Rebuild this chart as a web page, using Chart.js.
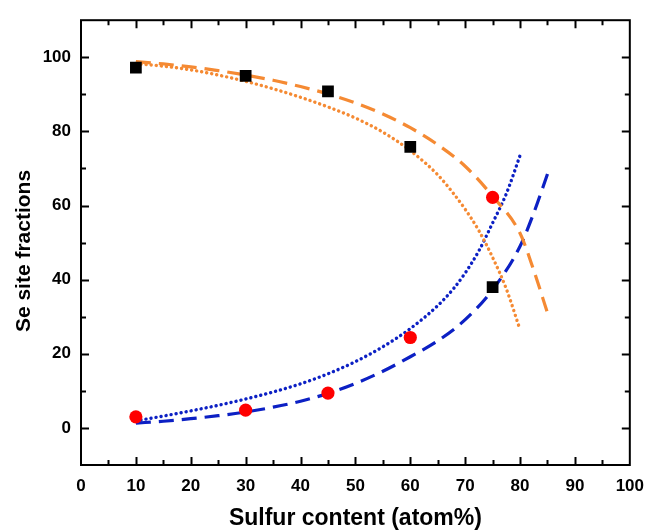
<!DOCTYPE html>
<html>
<head>
<meta charset="utf-8">
<script src="https://cdn.jsdelivr.net/npm/chart.js@4/dist/chart.umd.min.js"></script>
<style>
  html, body { margin: 0; padding: 0; background: #fff; }
  #wrap { width: 655px; height: 532px; }
</style>
</head>
<body>
<div id="wrap"><canvas id="grafico" width="655" height="532"></canvas></div>
<script>
// datos
const contenidoS = [10, 30, 45, 60, 75];
const fraccionCuadros = [97.2, 95.0, 90.8, 75.8, 38.0];
const fraccionCirculos = [3.0, 4.8, 9.4, 24.4, 62.2];

// curvas de ajuste (punteadas)
const xPunteada = [10, 15, 20, 25, 30, 35, 40, 45, 50, 55, 60, 65, 68, 70, 72.5, 75, 77.5, 80];
const naranjaPunteada = [98.3, 97.6, 96.6, 95.2, 93.5, 91.5, 89.2, 86.6, 83.6, 79.8, 74.8, 68.3, 63.0, 59.0, 53.2, 46.0, 37.5, 26.5];
const azulPunteada = [1.9, 3.2, 4.6, 6.1, 7.8, 9.7, 11.9, 14.6, 17.9, 21.9, 26.8, 33.0, 37.8, 41.8, 47.8, 55.3, 63.2, 73.5];

// curvas de ajuste (discontinuas)
const xDiscontinua = [10, 15, 20, 25, 30, 35, 40, 45, 50, 55, 60, 65, 70, 75, 80, 82.5, 85];
const naranjaDiscontinua = [98.8, 98.2, 97.4, 96.4, 95.2, 93.8, 92.1, 90.1, 87.7, 84.7, 81.0, 76.4, 70.6, 62.5, 52.5, 42.5, 31.0];
const azulDiscontinua = [1.3, 1.8, 2.5, 3.3, 4.3, 5.6, 7.2, 9.3, 12.0, 15.3, 19.2, 23.5, 29.2, 37.3, 49.0, 58.0, 68.5];

const xTicksEtiqueta = [0, 10, 20, 30, 40, 50, 60, 70, 80, 90, 100];
const yTicksEtiqueta = [0, 20, 40, 60, 80, 100];

const NARANJA = '#f58a33';
const AZUL = '#0c20c4';

function puntos(xs, ys) {
    return xs.map((x, i) => ({ x: x, y: ys[i] }));
}

function curva(xs, ys, color, punteada) {
    return {
        data: puntos(xs, ys),
        showLine: true,
        borderColor: color,
        borderWidth: punteada ? 3.4 : 3.2,
        borderDash: punteada ? [0.1, 5] : [15, 8],
        borderCapStyle: punteada ? 'round' : 'butt',
        cubicInterpolationMode: 'monotone',
        pointRadius: 0,
        order: 2
    };
}

const fuente = "'Liberation Sans', Arial, sans-serif";

// marco, marcas hacia adentro y titulo del eje Y
const marcoPlugin = {
    id: 'marco',
    afterDraw(chart) {
        const ctx = chart.ctx;
        const a = chart.chartArea;
        const sx = chart.scales.x;
        const sy = chart.scales.y;
        ctx.save();
        ctx.strokeStyle = '#000';
        ctx.lineWidth = 2;
        ctx.strokeRect(a.left, a.top, a.right - a.left, a.bottom - a.top);
        ctx.beginPath();
        for (let v = 5; v < 100; v += 5) {
            const px = Math.round(sx.getPixelForValue(v)) + 0.5;
            const largo = v % 10 === 0 ? 8 : 5;
            ctx.moveTo(px, a.bottom); ctx.lineTo(px, a.bottom - largo);
            ctx.moveTo(px, a.top); ctx.lineTo(px, a.top + largo);
        }
        for (let v = 0; v <= 100; v += 10) {
            const py = Math.round(sy.getPixelForValue(v)) + 0.5;
            const largo = v % 20 === 0 ? 8 : 5;
            ctx.moveTo(a.left, py); ctx.lineTo(a.left + largo, py);
            ctx.moveTo(a.right, py); ctx.lineTo(a.right - largo, py);
        }
        ctx.stroke();

        // titulo Y
        ctx.translate(24, 251);
        ctx.rotate(-Math.PI / 2);
        ctx.fillStyle = '#000';
        ctx.font = "bold 21px " + fuente;
        ctx.textAlign = 'center';
        ctx.textBaseline = 'middle';
        ctx.fillText('Se site fractions', 0, 0);
        ctx.restore();
    }
};

new Chart(document.getElementById('grafico').getContext('2d'), {
    type: 'scatter',
    data: {
        datasets: [
            {
                data: puntos(contenidoS, fraccionCuadros),
                pointStyle: 'rect',
                pointRadius: 8.3,
                pointHoverRadius: 8.3,
                backgroundColor: '#000',
                borderColor: '#000',
                borderWidth: 0,
                order: 0
            },
            {
                data: puntos(contenidoS, fraccionCirculos),
                pointStyle: 'circle',
                pointRadius: 6.6,
                pointHoverRadius: 6.6,
                backgroundColor: '#ff0000',
                borderColor: '#ff0000',
                borderWidth: 0,
                order: 0
            },
            curva(xDiscontinua, naranjaDiscontinua, NARANJA, false),
            curva(xPunteada, naranjaPunteada, NARANJA, true),
            curva(xPunteada, azulPunteada, AZUL, true),
            curva(xDiscontinua, azulDiscontinua, AZUL, false)
        ]
    },
    options: {
        responsive: false,
        animation: false,
        events: [],
        layout: { padding: { left: 0, right: 18, top: 17, bottom: 0 } },
        plugins: {
            legend: { display: false },
            tooltip: { enabled: false }
        },
        scales: {
            x: {
                type: 'linear',
                min: 0,
                max: 100,
                grid: { display: false, drawTicks: false },
                border: { display: false },
                afterFit(scale) { scale.height = 67; },
                afterBuildTicks(scale) {
                    scale.ticks = xTicksEtiqueta.map(v => ({ value: v }));
                },
                ticks: {
                    padding: 11,
                    maxRotation: 0,
                    autoSkip: false,
                    color: '#000',
                    font: { family: fuente, size: 17, weight: 'bold' }
                },
                title: {
                    display: true,
                    text: 'Sulfur content (atom%)',
                    color: '#000',
                    padding: { top: 0, bottom: 0 },
                    font: { family: fuente, size: 23, weight: 'bold' }
                }
            },
            y: {
                type: 'linear',
                min: -10,
                max: 110,
                grid: { display: false, drawTicks: false },
                border: { display: false },
                afterFit(scale) { scale.width = 81; },
                afterBuildTicks(scale) {
                    scale.ticks = yTicksEtiqueta.map(v => ({ value: v }));
                },
                ticks: {
                    padding: 10,
                    autoSkip: false,
                    color: '#000',
                    font: { family: fuente, size: 17, weight: 'bold' }
                },
                title: { display: false }
            }
        }
    },
    plugins: [marcoPlugin]
});
</script>
</body>
</html>
